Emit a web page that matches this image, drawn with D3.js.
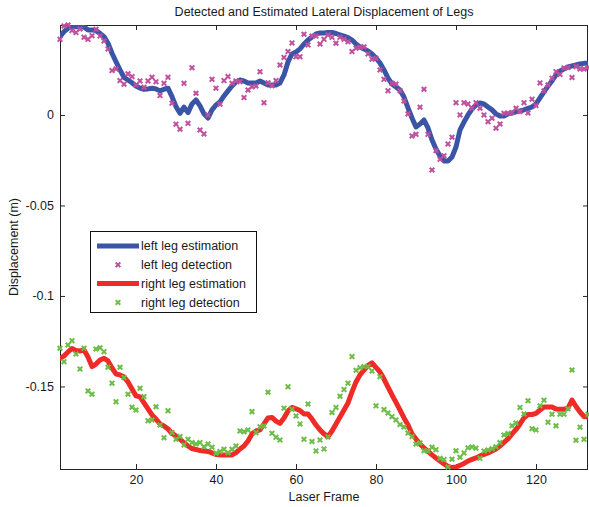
<!DOCTYPE html>
<html>
<head>
<meta charset="utf-8">
<script src="https://cdn.jsdelivr.net/npm/d3@7"></script>
<style>
  body { margin: 0; background: #fff; }
  svg text { font-family: "Liberation Sans", Arial, sans-serif; fill: #1a1a1a; }
</style>
</head>
<body>
<div id="chart"></div>
<script>
const width = 589, height = 507;
const margin = {top: 25, right: 1, bottom: 38, left: 60};

// frame numbers 1..133
const frames = d3.range(1, 134);

const leftEst = [
  0.0433, 0.0460, 0.0479, 0.0488, 0.0488, 0.0488, 0.0485, 0.0470, 0.0470, 0.0466,
  0.0451, 0.0433, 0.0396, 0.0341, 0.0294, 0.0249, 0.0208, 0.0193, 0.0178, 0.0160,
  0.0148, 0.0142, 0.0144, 0.0148, 0.0144, 0.0133, 0.0142, 0.0148, 0.0101, 0.0046,
  0.0009, 0.0043, 0.0013, 0.0061, 0.0083, 0.0050, 0.0006, -0.0017, 0.0028, 0.0055,
  0.0072, 0.0105, 0.0133, 0.0160, 0.0182, 0.0193, 0.0188, 0.0177, 0.0177, 0.0177,
  0.0188, 0.0177, 0.0166, 0.0166, 0.0166, 0.0177, 0.0221, 0.0293, 0.0337, 0.0348,
  0.0365, 0.0392, 0.0414, 0.0431, 0.0448, 0.0453, 0.0453, 0.0456, 0.0456, 0.0450,
  0.0442, 0.0436, 0.0428, 0.0414, 0.0392, 0.0376, 0.0365, 0.0354, 0.0337, 0.0315,
  0.0287, 0.0249, 0.0204, 0.0171, 0.0155, 0.0138, 0.0099, 0.0039, -0.0017, -0.0066,
  -0.0050, -0.0028, -0.0072, -0.0138, -0.0188, -0.0227, -0.0254, -0.0254, -0.0232, -0.0177,
  -0.0083, -0.0039, 0.0000, 0.0033, 0.0055, 0.0066, 0.0061, 0.0044, 0.0028, 0.0006,
  -0.0006, -0.0006, 0.0006, 0.0011, 0.0017, 0.0022, 0.0028, 0.0036, 0.0044, 0.0061,
  0.0094, 0.0127, 0.0160, 0.0188, 0.0221, 0.0243, 0.0254, 0.0265, 0.0271, 0.0276,
  0.0282, 0.0285, 0.0285
];

const leftDet = [
  0.0418, 0.0492, 0.0497, 0.0466, 0.0455, 0.0475, 0.0429, 0.0418, 0.0438, 0.0473,
  0.0436, 0.0409, 0.0365, 0.0245, 0.0254, 0.0190, 0.0170, 0.0227, 0.0212, 0.0166,
  0.0188, 0.0153, 0.0188, 0.0208, 0.0184, 0.0107, 0.0175, 0.0208, 0.0065, -0.0051,
  -0.0079, 0.0175, -0.0046, 0.0261, 0.0120, -0.0083, -0.0105, 0.0000, 0.0197, 0.0148,
  0.0059, 0.0190, 0.0212, 0.0175, 0.0188, 0.0184, 0.0096, 0.0138, 0.0156, 0.0160,
  0.0239, 0.0068, 0.0178, 0.0162, 0.0190, 0.0276, 0.0318, 0.0350, 0.0398, 0.0322,
  0.0322, 0.0446, 0.0387, 0.0436, 0.0436, 0.0392, 0.0418, 0.0442, 0.0429, 0.0396,
  0.0429, 0.0418, 0.0405, 0.0350, 0.0369, 0.0374, 0.0377, 0.0337, 0.0308, 0.0313,
  0.0249, 0.0197, 0.0134, 0.0175, 0.0171, 0.0134, 0.0077, 0.0006, -0.0116, -0.0107,
  0.0043, 0.0142, -0.0107, -0.0304, -0.0197, -0.0245, -0.0225, -0.0160, -0.0123, 0.0068,
  0.0000, 0.0068, 0.0061, 0.0037, 0.0068, 0.0037, 0.0000, -0.0037, -0.0018, -0.0073,
  -0.0050, 0.0009, 0.0009, 0.0013, 0.0037, 0.0019, 0.0068, 0.0011, 0.0087, 0.0052,
  0.0177, 0.0133, 0.0166, 0.0203, 0.0239, 0.0224, 0.0260, 0.0262, 0.0207, 0.0267,
  0.0254, 0.0254, 0.0262
];

const rightEst = [
  -0.1344, -0.1332, -0.1309, -0.1290, -0.1301, -0.1304, -0.1298, -0.1337, -0.1390, -0.1376,
  -0.1354, -0.1344, -0.1359, -0.1398, -0.1431, -0.1436, -0.1448, -0.1475, -0.1514, -0.1552,
  -0.1558, -0.1591, -0.1624, -0.1657, -0.1680, -0.1707, -0.1718, -0.1735, -0.1760, -0.1773,
  -0.1790, -0.1812, -0.1829, -0.1843, -0.1848, -0.1854, -0.1856, -0.1859, -0.1867, -0.1876,
  -0.1878, -0.1878, -0.1878, -0.1878, -0.1865, -0.1845, -0.1829, -0.1801, -0.1762, -0.1746,
  -0.1740, -0.1707, -0.1674, -0.1671, -0.1691, -0.1704, -0.1674, -0.1635, -0.1616, -0.1624,
  -0.1633, -0.1652, -0.1652, -0.1680, -0.1713, -0.1740, -0.1762, -0.1777, -0.1746, -0.1707,
  -0.1669, -0.1630, -0.1591, -0.1530, -0.1475, -0.1436, -0.1409, -0.1384, -0.1370, -0.1395,
  -0.1420, -0.1459, -0.1503, -0.1547, -0.1588, -0.1630, -0.1674, -0.1713, -0.1762, -0.1790,
  -0.1818, -0.1840, -0.1859, -0.1878, -0.1895, -0.1912, -0.1928, -0.1942, -0.1948, -0.1945,
  -0.1936, -0.1925, -0.1912, -0.1903, -0.1895, -0.1884, -0.1876, -0.1867, -0.1856, -0.1845,
  -0.1829, -0.1809, -0.1790, -0.1762, -0.1738, -0.1707, -0.1674, -0.1655, -0.1655, -0.1649,
  -0.1630, -0.1613, -0.1613, -0.1613, -0.1624, -0.1626, -0.1626, -0.1619, -0.1575, -0.1611,
  -0.1641, -0.1666, -0.1669
];

const rightDet = [
  -0.1289, -0.1363, -0.1271, -0.1247, -0.1320, -0.1403, -0.1289, -0.1525, -0.1543, -0.1293,
  -0.1286, -0.1308, -0.1394, -0.1482, -0.1584, -0.1394, -0.1451, -0.1543, -0.1615, -0.1630,
  -0.1510, -0.1556, -0.1689, -0.1685, -0.1612, -0.1713, -0.1783, -0.1634, -0.1755, -0.1792,
  -0.1777, -0.1823, -0.1792, -0.1810, -0.1818, -0.1810, -0.1833, -0.1818, -0.1836, -0.1869,
  -0.1860, -0.1847, -0.1866, -0.1847, -0.1829, -0.1746, -0.1750, -0.1740, -0.1639, -0.1755,
  -0.1722, -0.1718, -0.1532, -0.1759, -0.1781, -0.1796, -0.1620, -0.1501, -0.1626, -0.1663,
  -0.1707, -0.1792, -0.1597, -0.1804, -0.1856, -0.1796, -0.1845, -0.1779, -0.1644, -0.1616,
  -0.1554, -0.1517, -0.1482, -0.1335, -0.1411, -0.1396, -0.1390, -0.1390, -0.1415, -0.1607,
  -0.1446, -0.1628, -0.1646, -0.1667, -0.1685, -0.1710, -0.1724, -0.1757, -0.1777, -0.1818,
  -0.1812, -0.1855, -0.1857, -0.1836, -0.1849, -0.1897, -0.1904, -0.1945, -0.1902, -0.1855,
  -0.1891, -0.1867, -0.1839, -0.1834, -0.1841, -0.1897, -0.1857, -0.1851, -0.1844, -0.1833,
  -0.1810, -0.1768, -0.1760, -0.1717, -0.1702, -0.1616, -0.1652, -0.1579, -0.1733, -0.1740,
  -0.1607, -0.1576, -0.1698, -0.1653, -0.1717, -0.1653, -0.1653, -0.1623, -0.1409, -0.1797,
  -0.1725, -0.1792, -0.1654
];

const xTicks = [20, 40, 60, 80, 100, 120];
const yTicks = [0, -0.05, -0.1, -0.15];
const yTickLabels = ["0", "-0.05", "-0.1", "-0.15"];

const legendItems = [
  {label: "left leg estimation", type: "line", color: "#3a55a5"},
  {label: "left leg detection", type: "mark", color: "#c04f9f"},
  {label: "right leg estimation", type: "line", color: "#ee2b26"},
  {label: "right leg detection", type: "mark", color: "#6cbd45"}
];

const svg = d3.select("#chart").append("svg")
    .attr("width", width)
    .attr("height", height);

const innerW = width - margin.left - margin.right;
const innerH = height - margin.top - margin.bottom;

const x = d3.scaleLinear().domain([1, 133]).range([margin.left, margin.left + innerW]);
const y = d3.scaleLinear().domain([-0.1956, 0.0497]).range([margin.top + innerH, margin.top]);

svg.append("defs").append("clipPath").attr("id", "plotclip")
  .append("rect")
    .attr("x", margin.left).attr("y", margin.top)
    .attr("width", innerW).attr("height", innerH);

// title and labels
svg.append("text")
    .attr("x", margin.left + innerW / 2).attr("y", 16)
    .attr("text-anchor", "middle")
    .style("font-size", "12.5px")
    .text("Detected and Estimated Lateral Displacement of Legs");

svg.append("text")
    .attr("x", margin.left + innerW / 2).attr("y", 501)
    .attr("text-anchor", "middle")
    .style("font-size", "12.5px")
    .text("Laser Frame");

svg.append("text")
    .attr("transform", `translate(17.5,${margin.top + innerH / 2}) rotate(-90)`)
    .attr("text-anchor", "middle")
    .style("font-size", "12.5px")
    .text("Displacement (m)");

// axes, MATLAB style: ticks inside, box around
const axisColor = "#262626";

function styleAxis(g) {
  g.select(".domain").remove();
  g.selectAll(".tick line").attr("stroke", axisColor);
  g.selectAll(".tick text").style("font-size", "12.5px").attr("fill", "#1a1a1a");
}

svg.append("g")
    .attr("transform", `translate(0,${margin.top + innerH})`)
    .call(d3.axisBottom(x).tickValues(xTicks).tickSize(-5).tickPadding(6))
    .call(styleAxis);

svg.append("g")
    .attr("transform", `translate(0,${margin.top})`)
    .call(d3.axisTop(x).tickValues(xTicks).tickSize(-5).tickFormat(""))
    .call(styleAxis);

svg.append("g")
    .attr("transform", `translate(${margin.left},0)`)
    .call(d3.axisLeft(y).tickValues(yTicks).tickSize(-5).tickPadding(6)
      .tickFormat((d, i) => yTickLabels[i]))
    .call(styleAxis);

svg.append("g")
    .attr("transform", `translate(${margin.left + innerW},0)`)
    .call(d3.axisRight(y).tickValues(yTicks).tickSize(-5).tickFormat(""))
    .call(styleAxis);

svg.append("rect")
    .attr("x", margin.left + 0.5).attr("y", margin.top + 0.5)
    .attr("width", innerW - 1).attr("height", innerH)
    .attr("fill", "none")
    .attr("stroke", axisColor)
    .attr("stroke-width", 1);

const plot = svg.append("g");

function crossPath(cx, cy, r) {
  return `M${cx - r},${cy - r}L${cx + r},${cy + r}M${cx - r},${cy + r}L${cx + r},${cy - r}`;
}

function drawMarks(values, color) {
  plot.append("g")
    .selectAll("path")
    .data(values)
    .enter()
    .append("path")
    .attr("d", (d, i) => crossPath(x(frames[i]), y(d), 2.3))
    .attr("stroke", color)
    .attr("stroke-width", 2)
    .attr("fill", "none");
}

function drawLine(values, color, w) {
  plot.append("path")
    .datum(values)
    .attr("clip-path", "url(#plotclip)")
    .attr("fill", "none")
    .attr("stroke", color)
    .attr("stroke-width", w)
    .attr("stroke-linejoin", "round")
    .attr("stroke-linecap", "round")
    .attr("d", d3.line()
      .x((d, i) => x(frames[i]))
      .y(d => y(d)));
}

drawLine(leftEst, legendItems[0].color, 5);
drawMarks(leftDet, legendItems[1].color);
drawLine(rightEst, legendItems[2].color, 5);
drawMarks(rightDet, legendItems[3].color);

// legend
const legend = svg.append("g");
legend.append("rect")
    .attr("x", 90.5).attr("y", 231.5)
    .attr("width", 166).attr("height", 81)
    .attr("fill", "#fff")
    .attr("stroke", "#111")
    .attr("stroke-width", 1);

legendItems.forEach((item, i) => {
  const cy = 246 + i * 18.8;
  if (item.type === "line") {
    legend.append("line")
      .attr("x1", 97).attr("x2", 139)
      .attr("y1", cy).attr("y2", cy)
      .attr("stroke", item.color)
      .attr("stroke-width", 5);
  } else {
    legend.append("path")
      .attr("d", crossPath(118, cy, 2.3))
      .attr("stroke", item.color)
      .attr("stroke-width", 2)
      .attr("fill", "none");
  }
  legend.append("text")
    .attr("x", 141).attr("y", cy)
    .attr("dy", "0.35em")
    .style("font-size", "12.5px")
    .text(item.label);
});
</script>
</body>
</html>
